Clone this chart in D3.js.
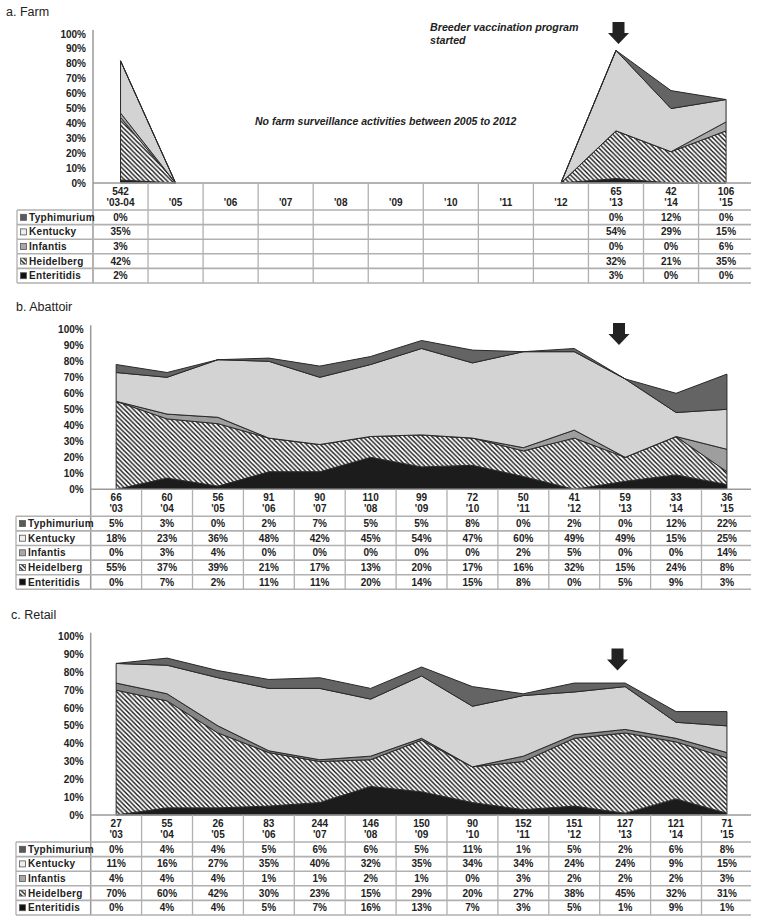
<!DOCTYPE html>
<html><head><meta charset="utf-8">
<script src="https://cdn.jsdelivr.net/npm/d3@7"></script>
<style>body{margin:0;background:#fff;} svg{display:block;font-family:"Liberation Sans",Arial,sans-serif;}</style>
</head><body><svg id="c" width="758" height="923"></svg>
<script>
// ---- data ----
const seriesNames = ["Enteritidis","Heidelberg","Infantis","Kentucky","Typhimurium"]; // stack bottom -> top
const tableRows = ["Typhimurium","Kentucky","Infantis","Heidelberg","Enteritidis"];
const yTicks = [0,10,20,30,40,50,60,70,80,90,100];

const farmYears = ["'03-04","'05","'06","'07","'08","'09","'10","'11","'12","'13","'14","'15"];
const farmN =           [542,null,null,null,null,null,null,null,null,65,42,106];
const farmTyphimurium = [0,  null,null,null,null,null,null,null,null,0, 12,0];
const farmKentucky =    [35, null,null,null,null,null,null,null,null,54,29,15];
const farmInfantis =    [3,  null,null,null,null,null,null,null,null,0, 0, 6];
const farmHeidelberg =  [42, null,null,null,null,null,null,null,null,32,21,35];
const farmEnteritidis = [2,  null,null,null,null,null,null,null,null,3, 0, 0];
const farmZeroYears = ["'05","'12"]; // chart drops to 0 there (no surveillance)

const abYears = ["'03","'04","'05","'06","'07","'08","'09","'10","'11","'12","'13","'14","'15"];
const abN =           [66,60,56,91,90,110,99,72,50,41,59,33,36];
const abTyphimurium = [5,3,0,2,7,5,5,8,0,2,0,12,22];
const abKentucky =    [18,23,36,48,42,45,54,47,60,49,49,15,25];
const abInfantis =    [0,3,4,0,0,0,0,0,2,5,0,0,14];
const abHeidelberg =  [55,37,39,21,17,13,20,17,16,32,15,24,8];
const abEnteritidis = [0,7,2,11,11,20,14,15,8,0,5,9,3];

const rtYears = ["'03","'04","'05","'06","'07","'08","'09","'10","'11","'12","'13","'14","'15"];
const rtN =           [27,55,26,83,244,146,150,90,152,151,127,121,71];
const rtTyphimurium = [0,4,4,5,6,6,5,11,1,5,2,6,8];
const rtKentucky =    [11,16,27,35,40,32,35,34,34,24,24,9,15];
const rtInfantis =    [4,4,4,1,1,2,1,0,3,2,2,2,3];
const rtHeidelberg =  [70,60,42,30,23,15,29,20,27,38,45,32,31];
const rtEnteritidis = [0,4,4,5,7,16,13,7,3,5,1,9,1];

// ---- drawing ----
const svg = d3.select("#c");
const defs = svg.append("defs");
const P = 4.6;
const pat = defs.append("pattern").attr("id","hatch").attr("patternUnits","userSpaceOnUse")
  .attr("width",P).attr("height",P);
pat.append("rect").attr("width",P).attr("height",P).attr("fill","#fff");
pat.append("path").attr("d",`M-1,-1L${P+1},${P+1}M-1,${P-1}L1,${P+1}M${P-1},-1L${P+1},1`).attr("stroke","#111").attr("stroke-width",1.35);

function fillsFor(infantis){
  return {Enteritidis:"#1c1c1c", Heidelberg:"url(#hatch)", Infantis:infantis, Kentucky:"#d3d3d3", Typhimurium:"#646464"};
}
const iconFill = {Typhimurium:"#5a5a5a", Kentucky:"#eeeeee", Infantis:"#a8a8a8", Heidelberg:"url(#hatch)", Enteritidis:"#111"};

function drawPanel(cfg){
  const g = svg.append("g");
  const n = cfg.years.length;
  const right = 751;
  const x = d3.scaleBand().domain(cfg.years).range([cfg.x0, cfg.x0 + n*cfg.bandW]);
  const cx = d => x(d) + x.bandwidth()/2;
  const y = d3.scaleLinear().domain([0,100]).range([cfg.yBot, cfg.yTop]);
  const fills = fillsFor(cfg.infantisColor);

  g.append("text").attr("x",cfg.titleX).attr("y",cfg.titleY).attr("font-size",12.5).attr("fill","#222").text(cfg.title);

  // y axis
  g.append("line").attr("x1",cfg.x0).attr("x2",cfg.x0).attr("y1",cfg.yTop-4).attr("y2",cfg.yBot+100)
    .attr("stroke","#9a9a9a").attr("stroke-width",1.5);
  g.selectAll(".yt").data(yTicks).join("text").attr("class","yt")
    .attr("x",cfg.x0-7).attr("y",d=>y(d)).attr("dy","0.35em").attr("text-anchor","end")
    .attr("font-size",10).attr("font-weight","bold").attr("fill","#222").text(d=>d+"%");

  // stacked areas
  const rows = cfg.years.map((yr,i)=>{
    const o = {year:yr, def: cfg.series.Enteritidis[i]!=null || (cfg.zero||[]).includes(yr)};
    seriesNames.forEach(s=>{ o[s] = cfg.series[s][i] == null ? 0 : cfg.series[s][i]; });
    return o;
  });
  const stacked = d3.stack().keys(seriesNames)(rows);
  const area = d3.area().defined(d=>d.data.def).x(d=>cx(d.data.year)).y0(d=>y(d[0])).y1(d=>y(d[1]));
  g.selectAll(".ar").data(stacked).join("path").attr("class","ar")
    .attr("d",area).attr("fill",s=>fills[s.key]).attr("stroke","#2a2a2a").attr("stroke-width",1).attr("stroke-linejoin","round");

  // x axis line
  g.append("line").attr("x1",cfg.x0).attr("x2",right).attr("y1",cfg.yBot).attr("y2",cfg.yBot)
    .attr("stroke","#9a9a9a").attr("stroke-width",1.5);

  // table grid
  const rowTop = cfg.yBot + 27, rowH = 14.6, tBot = rowTop + 5*rowH;
  for(let k=1;k<n;k++){
    g.append("line").attr("x1",cfg.x0+k*cfg.bandW).attr("x2",cfg.x0+k*cfg.bandW).attr("y1",cfg.yBot).attr("y2",tBot)
      .attr("stroke","#b0b0b0").attr("stroke-width",1.3);
  }
  g.append("line").attr("x1",cfg.tableLeft).attr("x2",cfg.tableLeft).attr("y1",rowTop).attr("y2",tBot)
    .attr("stroke","#b0b0b0").attr("stroke-width",1.3);
  for(let r=0;r<=5;r++){
    g.append("line").attr("x1",cfg.tableLeft).attr("x2",right).attr("y1",rowTop+r*rowH).attr("y2",rowTop+r*rowH)
      .attr("stroke","#b0b0b0").attr("stroke-width",1.6);
  }
  // header: n and year
  g.selectAll(".nn").data(cfg.years).join("text").attr("class","nn")
    .attr("x",d=>cx(d)).attr("y",cfg.yBot+8).attr("dy","0.35em").attr("text-anchor","middle")
    .attr("font-size",10).attr("font-weight","bold").attr("fill","#222")
    .text((d,i)=>cfg.n[i]==null?"":cfg.n[i]);
  g.selectAll(".yr").data(cfg.years).join("text").attr("class","yr")
    .attr("x",d=>cx(d)).attr("y",cfg.yBot+19.5).attr("dy","0.35em").attr("text-anchor","middle")
    .attr("font-size",10).attr("font-weight","bold").attr("fill","#222").text(d=>d);
  // rows
  tableRows.forEach((s,r)=>{
    const yc = rowTop + r*rowH + rowH/2;
    g.append("rect").attr("x",cfg.tableLeft+3.5).attr("y",yc-3).attr("width",6).attr("height",6)
      .attr("fill",iconFill[s]).attr("stroke","#555").attr("stroke-width",0.8);
    g.append("text").attr("x",cfg.tableLeft+12).attr("y",yc).attr("dy","0.35em")
      .attr("font-size",10).attr("font-weight","bold").attr("fill","#222").attr("letter-spacing",0.3).text(s);
    g.selectAll(".c"+r).data(cfg.years).join("text").attr("class","c"+r)
      .attr("x",d=>cx(d)).attr("y",yc).attr("dy","0.35em").attr("text-anchor","middle")
      .attr("font-size",10).attr("font-weight","bold").attr("fill","#222")
      .text((d,i)=>cfg.series[s][i]==null?"":cfg.series[s][i]+"%");
  });

  // arrow (program start)
  const ax = cfg.arrowX, at = cfg.arrowTop;
  g.append("path").attr("d",`M${ax-6},${at}H${ax+6}V${at+11}H${ax+10.5}L${ax},${at+22}L${ax-10.5},${at+11}H${ax-6}Z`).attr("fill","#222");
  return {g,x,y};
}

const farm = drawPanel({title:"a. Farm", titleX:6, titleY:16, years:farmYears, n:farmN,
  series:{Typhimurium:farmTyphimurium,Kentucky:farmKentucky,Infantis:farmInfantis,Heidelberg:farmHeidelberg,Enteritidis:farmEnteritidis},
  zero:farmZeroYears, x0:93, bandW:55.05, yTop:34, yBot:183, tableLeft:17, infantisColor:"#a8a8a8", arrowX:618.5, arrowTop:22});
farm.g.append("text").attr("x",430).attr("y",31).attr("font-size",10.7).attr("font-weight","bold").attr("font-style","italic").attr("fill","#222").text("Breeder vaccination program");
farm.g.append("text").attr("x",430).attr("y",44).attr("font-size",10.7).attr("font-weight","bold").attr("font-style","italic").attr("fill","#222").text("started");
farm.g.append("text").attr("x",255).attr("y",125).attr("font-size",10.5).attr("font-weight","bold").attr("font-style","italic").attr("fill","#222").text("No farm surveillance activities between 2005 to 2012");

drawPanel({title:"b. Abattoir", titleX:16, titleY:311, years:abYears, n:abN,
  series:{Typhimurium:abTyphimurium,Kentucky:abKentucky,Infantis:abInfantis,Heidelberg:abHeidelberg,Enteritidis:abEnteritidis},
  x0:90.7, bandW:50.9, yTop:329.3, yBot:489.3, tableLeft:16, infantisColor:"#9e9e9e", arrowX:619, arrowTop:323});

drawPanel({title:"c. Retail", titleX:11, titleY:619, years:rtYears, n:rtN,
  series:{Typhimurium:rtTyphimurium,Kentucky:rtKentucky,Infantis:rtInfantis,Heidelberg:rtHeidelberg,Enteritidis:rtEnteritidis},
  x0:90.7, bandW:50.9, yTop:636.7, yBot:815, tableLeft:16, infantisColor:"#858585", arrowX:617.5, arrowTop:648.5});
</script></body></html>
